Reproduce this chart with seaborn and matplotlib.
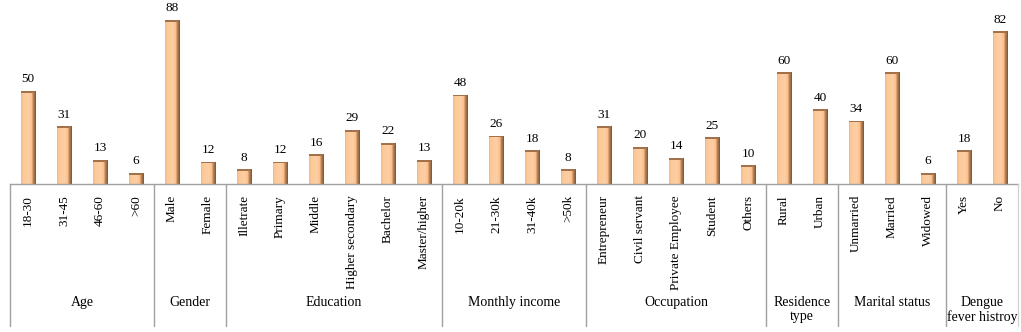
import numpy as np
import pandas as pd
import matplotlib
matplotlib.use('Agg')
import matplotlib.pyplot as plt
from matplotlib.colors import LinearSegmentedColormap
import seaborn as sns

groups = ['Age', 'Gender', 'Education', 'Monthly income', 'Occupation',
          'Residence\ntype', 'Marital status', 'Dengue\nfever histroy']
group_items = [
    ['18-30', '31-45', '46-60', '>60'],
    ['Male', 'Female'],
    ['Illetrate', 'Primary', 'Middle', 'Higher secondary', 'Bachelor', 'Master/higher'],
    ['10-20k', '21-30k', '31-40k', '>50k'],
    ['Entrepreneur', 'Civil servant', 'Private Employee', 'Student', 'Others'],
    ['Rural', 'Urban'],
    ['Unmarried', 'Married', 'Widowed'],
    ['Yes', 'No'],
]
group_values = [
    [50, 31, 13, 6],
    [88, 12],
    [8, 12, 16, 29, 22, 13],
    [48, 26, 18, 8],
    [31, 20, 14, 25, 10],
    [60, 40],
    [34, 60, 6],
    [18, 82],
]

rows = []
for g, items, vals in zip(groups, group_items, group_values):
    for it, v in zip(items, vals):
        rows.append({'group': g, 'item': it, 'value': v})
df = pd.DataFrame(rows)
order = list(df['item'])

sns.set_style('white')
plt.rcParams['font.family'] = ['Liberation Serif', 'DejaVu Serif']
plt.rcParams['text.color'] = 'black'
plt.rcParams['xtick.color'] = 'black'
plt.rcParams['xtick.labelcolor'] = 'black'

W, H = 1021, 332
fig = plt.figure(figsize=(W / 100, H / 100), dpi=100)
x0, x1, ybase = 10, 1018, 184
ax = fig.add_axes([x0 / W, (H - ybase) / H, (x1 - x0) / W, ybase / H])

sns.barplot(data=df, x='item', y='value', order=order, color='#FCC89A',
            width=0.39, saturation=1, edgecolor='#9A6A45', linewidth=0.5,
            ax=ax, errorbar=None)

n = len(order)
ax.set_xlim(-0.5, n - 0.5)
ax.set_ylim(0, 98.7)

# cylinder-like shading on each bar: light body, dark right edge
cmap = LinearSegmentedColormap.from_list(
    'bar', [(0.0, '#F2B884'), (0.12, '#FCC89A'), (0.5, '#FDCFA3'),
            (0.72, '#FAC290'), (0.82, '#C08858'), (1.0, '#7E5434')])
grad = np.linspace(0, 1, 64).reshape(1, -1)
for p in ax.patches:
    bx, bw, bh = p.get_x(), p.get_width(), p.get_height()
    im = ax.imshow(grad, cmap=cmap, extent=[bx, bx + bw, 0, bh],
                   aspect='auto', zorder=p.get_zorder() + 0.1, origin='lower')
    im.set_clip_path(p)
    # darker top cap
    ax.fill_between([bx, bx + bw], bh - 1.0, bh, color='#A4724A',
                    zorder=p.get_zorder() + 0.2, linewidth=0)

for i, v in enumerate(df['value']):
    ax.annotate(str(v), (i, v), xytext=(0, 4), textcoords='offset points',
                ha='center', va='bottom', fontsize=9.5, color='black')

ax.set_xticks(range(n))
ax.set_xticklabels(order, rotation=90, fontsize=9.5, va='top', ha='center',
                   color='black')
ax.tick_params(axis='x', length=0, pad=8)
ax.set_yticks([])
ax.set_xlabel('')
ax.set_ylabel('')
for s in ['top', 'right', 'left']:
    ax.spines[s].set_visible(False)
ax.spines['bottom'].set_color('#A0A0A0')
ax.spines['bottom'].set_linewidth(1.0)

# group separators and group labels
slot = (x1 - x0) / n
edge = x0
start = 0
for g, items in zip(groups, group_items):
    fig.add_artist(plt.Line2D([edge / W, edge / W], [(H - ybase) / H, (H - 326) / H],
                              color='#A0A0A0', linewidth=1.0))
    cx = x0 + slot * (start + len(items) / 2)
    fig.text(cx / W, (H - 296) / H, g, ha='center', va='top', fontsize=10,
             linespacing=1.1, color='black')
    start += len(items)
    edge = x0 + slot * start
fig.add_artist(plt.Line2D([edge / W, edge / W], [(H - ybase) / H, (H - 326) / H],
                          color='#D0D0D0', linewidth=0.8))

fig.savefig('out.png', dpi=100)
